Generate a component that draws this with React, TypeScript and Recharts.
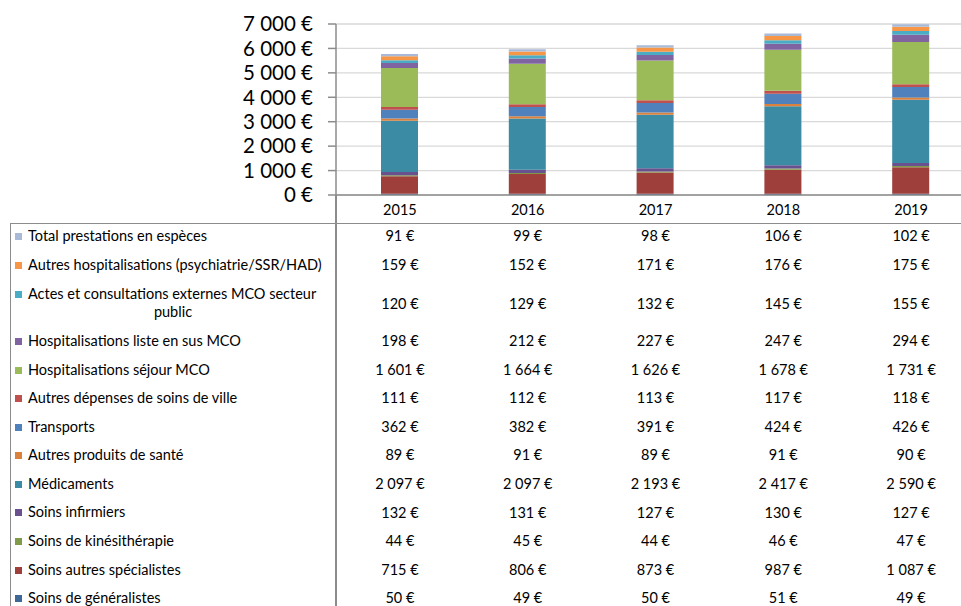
import { BarChart, Bar, XAxis, YAxis, CartesianGrid } from "recharts";

const years = ["2015", "2016", "2017", "2018", "2019"];

// stacked from bottom to top
const generalistes = [50, 49, 50, 51, 49];
const autresSpecialistes = [715, 806, 873, 987, 1087];
const kine = [44, 45, 44, 46, 47];
const infirmiers = [132, 131, 127, 130, 127];
const medicaments = [2097, 2097, 2193, 2417, 2590];
const autresProduits = [89, 91, 89, 91, 90];
const transports = [362, 382, 391, 424, 426];
const autresDepenses = [111, 112, 113, 117, 118];
const sejourMCO = [1601, 1664, 1626, 1678, 1731];
const listeEnSus = [198, 212, 227, 247, 294];
const actesExternes = [120, 129, 132, 145, 155];
const autresHosp = [159, 152, 171, 176, 175];
const prestationsEspeces = [91, 99, 98, 106, 102];

const yTicks = [0, 1000, 2000, 3000, 4000, 5000, 6000, 7000];

interface Serie {
  key: string;
  name: string;
  lines?: string[];
  color: string;
  values: number[];
}

const series: Serie[] = [
  { key: "gen", name: "Soins de généralistes", color: "#3F6897", values: generalistes },
  { key: "spe", name: "Soins autres spécialistes", color: "#9E3F3C", values: autresSpecialistes },
  { key: "kine", name: "Soins de kinésithérapie", color: "#7F9A48", values: kine },
  { key: "inf", name: "Soins infirmiers", color: "#69508E", values: infirmiers },
  { key: "med", name: "Médicaments", color: "#3A8BA3", values: medicaments },
  { key: "prod", name: "Autres produits de santé", color: "#D9813D", values: autresProduits },
  { key: "trans", name: "Transports", color: "#4F81BD", values: transports },
  { key: "dep", name: "Autres dépenses de soins de ville", color: "#C0504D", values: autresDepenses },
  { key: "sej", name: "Hospitalisations séjour MCO", color: "#9BBB59", values: sejourMCO },
  { key: "sus", name: "Hospitalisations liste en sus MCO", color: "#8064A2", values: listeEnSus },
  {
    key: "actes",
    name: "Actes et consultations externes MCO secteur public",
    lines: ["Actes et consultations externes MCO secteur", "public"],
    color: "#4BACC6",
    values: actesExternes,
  },
  { key: "hosp", name: "Autres hospitalisations (psychiatrie/SSR/HAD)", color: "#F79646", values: autresHosp },
  { key: "esp", name: "Total prestations en espèces", color: "#A9BAD8", values: prestationsEspeces },
];

const data = years.map((year, i) => {
  const row: Record<string, string | number> = { year };
  series.forEach((s) => (row[s.key] = s.values[i]));
  return row;
});

const euro = (n: number) => n.toString().replace(/\B(?=(\d{3})+(?!\d))/g, " ") + " €";

const FONT = "Lato, 'Open Sans', sans-serif";
const PLOT_LEFT = 336;
const COL_W = 127.8;
const LINE = "#8c8c8c";
const TABLE_FS = 14.5;

const YearTick = (props: any) => {
  const { x, payload } = props;
  return (
    <text x={x} y={209} textAnchor="middle" dominantBaseline="central" fill="#000" fontSize={TABLE_FS} fontFamily={FONT}>
      {payload.value}
    </text>
  );
};

export default function App() {
  const tableRows = [...series].reverse();
  return (
    <div style={{ position: "absolute", left: 0, top: 0, width: 961, height: 606, overflow: "hidden", background: "#fff", fontFamily: FONT }}>
      <BarChart width={975} height={223} data={data} margin={{ top: 24, right: 0, bottom: 0, left: 0 }} barSize={37}>
        <CartesianGrid vertical={false} stroke="#d9d9d9" strokeWidth={1.3} />
        <XAxis
          dataKey="year"
          height={28}
          tickLine={false}
          axisLine={{ stroke: LINE, strokeWidth: 1.5 }}
          tick={<YearTick />}
          interval={0}
        />
        <YAxis
          width={PLOT_LEFT}
          domain={[0, 7000]}
          ticks={yTicks}
          interval={0}
          tickFormatter={euro}
          tickSize={8}
          tickMargin={15}
          axisLine={{ stroke: LINE, strokeWidth: 1.5 }}
          tickLine={{ stroke: LINE, strokeWidth: 1.5 }}
          tick={{ fill: "#000", fontSize: 20.5, fontFamily: FONT }}
        />
        {series.map((s) => (
          <Bar key={s.key} dataKey={s.key} name={s.name} stackId="a" fill={s.color} isAnimationActive={false} />
        ))}
      </BarChart>

      {/* data table under the plot */}
      <div style={{ position: "absolute", left: 10, top: 222.5, width: 951, height: 1.5, background: LINE }} />
      <div style={{ position: "absolute", left: 9.5, top: 222.5, width: 1.5, height: 400, background: LINE }} />
      <div style={{ position: "absolute", left: 335, top: 195, width: 1.5, height: 420, background: LINE }} />

      <div style={{ position: "absolute", left: 0, top: 222.4, width: 975 }}>
        {tableRows.map((s) => {
          const h = s.lines ? 47.4 : 28.6;
          return (
            <div key={s.key} style={{ position: "relative", height: h, fontSize: TABLE_FS, color: "#000" }}>
              <div style={{ position: "absolute", left: 10, width: 326, top: 0, height: h, display: "flex", flexDirection: "column", justifyContent: "center" }}>
                {(s.lines ?? [s.name]).map((line, li) => (
                  <div
                    key={li}
                    style={{ lineHeight: "18.7px", whiteSpace: "nowrap", textAlign: li === 0 ? "left" : "center", paddingLeft: li === 0 ? 5 : 0 }}
                  >
                    {li === 0 && (
                      <span style={{ display: "inline-block", width: 7, height: 7, background: s.color, marginRight: 6, verticalAlign: "1px" }} />
                    )}
                    {line}
                  </div>
                ))}
              </div>
              {s.values.map((v, i) => (
                <div
                  key={i}
                  style={{ position: "absolute", left: PLOT_LEFT + COL_W * i, width: COL_W, top: 0, height: h, lineHeight: `${h}px`, textAlign: "center", whiteSpace: "nowrap" }}
                >
                  {euro(v)}
                </div>
              ))}
            </div>
          );
        })}
      </div>
    </div>
  );
}
